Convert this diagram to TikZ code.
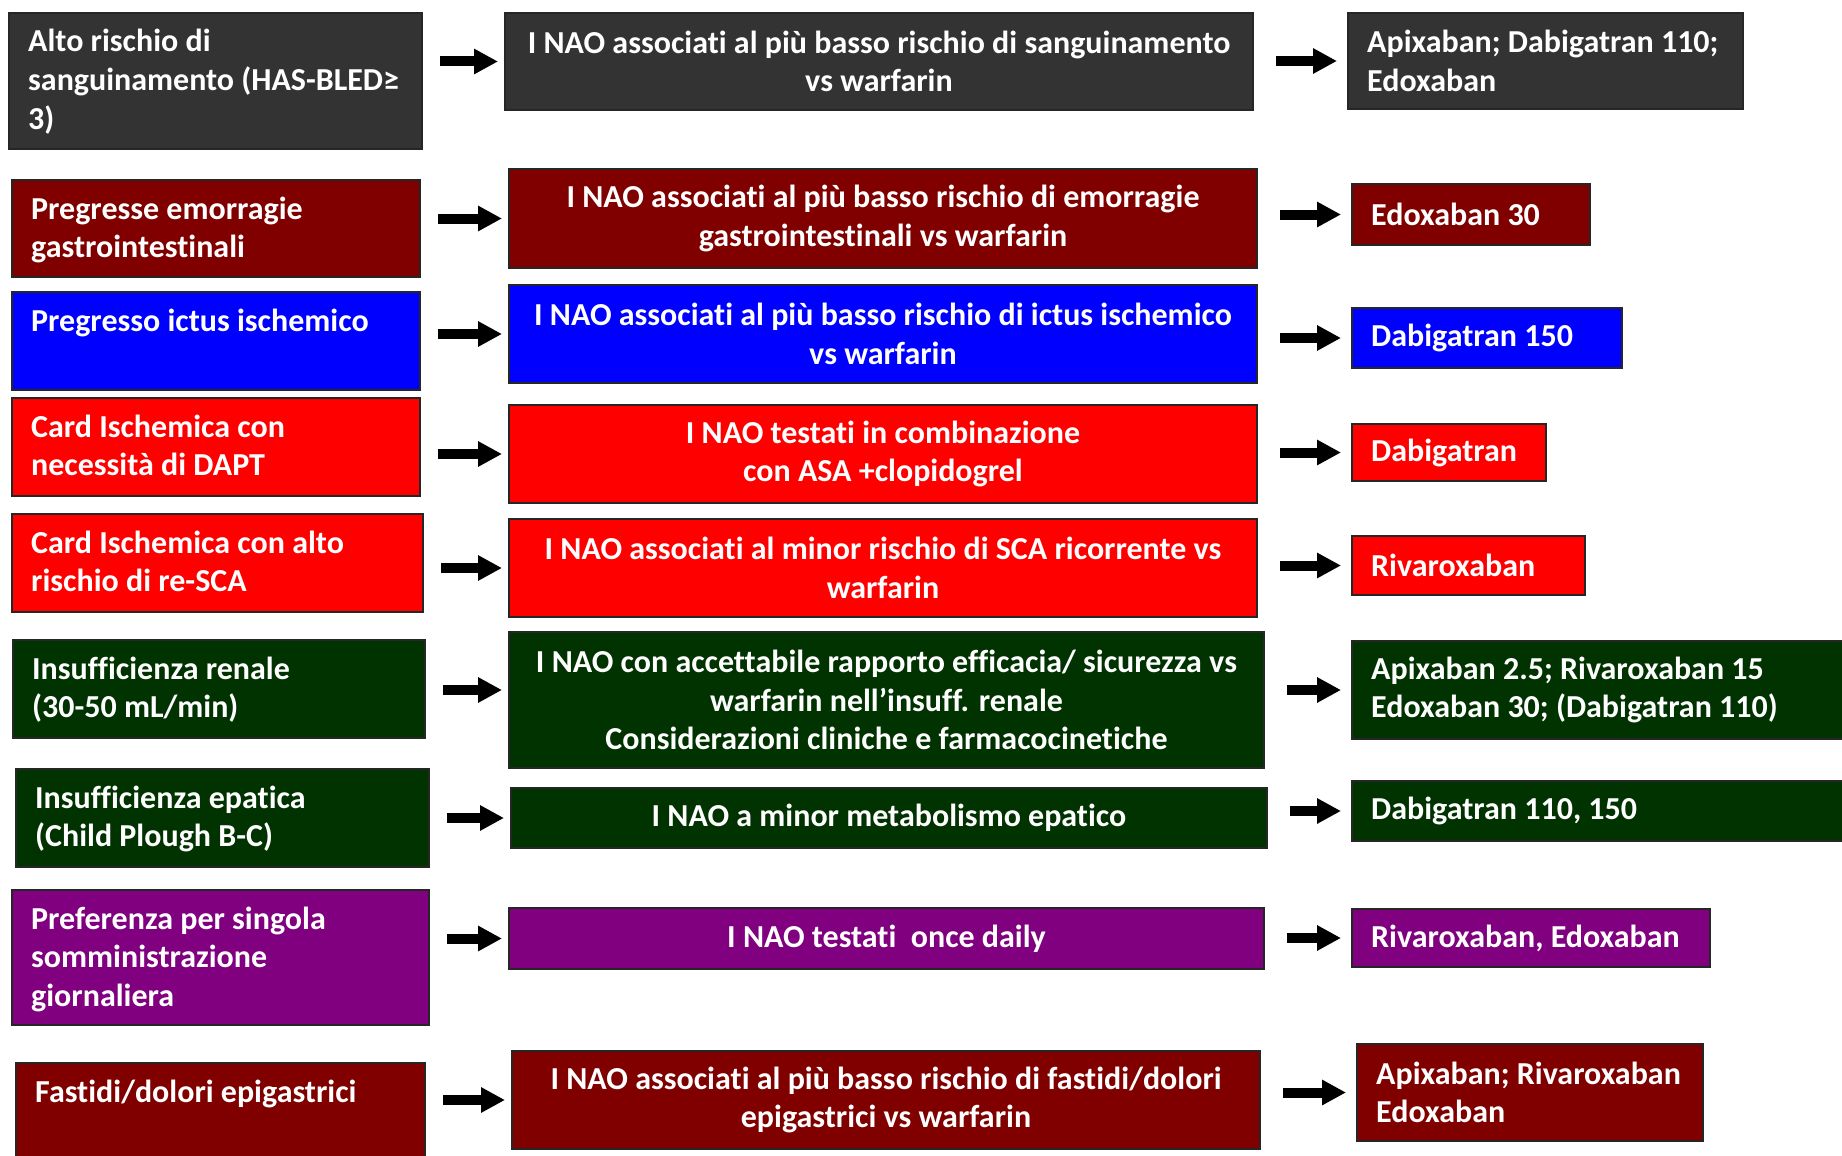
\documentclass[tikz,border=0pt]{standalone}
\usepackage{fontspec}
\setmainfont{Carlito}[Ligatures=CommonOff]
\usetikzlibrary{arrows.meta}

\definecolor{grigio}{HTML}{333333}
\definecolor{bordeaux}{HTML}{800000}
\definecolor{blu}{HTML}{0000FF}
\definecolor{rosso}{HTML}{FF0000}
\definecolor{verde}{HTML}{003300}
\definecolor{viola}{HTML}{800080}

\tikzstyle{every node}=[font=\fontsize{32pt}{38.6pt}\selectfont\bfseries]
\tikzstyle{casella}=[rectangle, draw=black!85, line width=2pt, inner sep=0pt, anchor=north west]
\tikzstyle{sinistra}=[text=white, anchor=base west, text width=395pt, align=flush left, inner sep=0pt]
\tikzstyle{centro}=[text=white, align=center, inner sep=0pt]
\tikzstyle{destra}=[text=white, anchor=west, align=left, inner sep=0pt]
\tikzstyle{freccia}=[line width=10pt, -{Triangle[length=24pt,width=24pt]}]

\begin{document}
\begin{tikzpicture}[x=1pt, y=-1pt]
    \useasboundingbox (0,0) rectangle (1842,1156);

    % Sanguinamento
    \node[casella, fill=grigio, minimum width=413pt, minimum height=136pt] (l1) at (8,12) {};
    \node[casella, fill=grigio, minimum width=748pt, minimum height=97pt] (m1) at (504,12) {};
    \node[casella, fill=grigio, minimum width=395pt, minimum height=96pt] (r1) at (1347,12) {};
    \node[sinistra] (tl1) at ([shift={(20,40)}]l1.north west) {Alto rischio di\\sanguinamento (HAS-BLED≥\\3)};
    \node[centro] (tm1) at (m1) {I NAO associati al più basso rischio di sanguinamento\\vs warfarin};
    \node[destra] (tr1) at ([xshift=20pt]r1.west) {Apixaban; Dabigatran 110;\\Edoxaban};
    \draw[freccia, shorten <=17pt, shorten >=6pt] (l1.east |- m1.west) -- (m1.west);
    \draw[freccia, shorten <=22pt, shorten >=10pt] (m1.east |- r1.west) -- (r1.west);

    % Emorragie gastrointestinali
    \node[casella, fill=bordeaux, minimum width=408pt, minimum height=97pt] (l2) at (11,179) {};
    \node[casella, fill=bordeaux, minimum width=748pt, minimum height=99pt] (m2) at (508,168) {};
    \node[casella, fill=bordeaux, minimum width=238pt, minimum height=61pt] (r2) at (1351,183) {};
    \node[sinistra] (tl2) at ([shift={(20,40)}]l2.north west) {Pregresse emorragie\\gastrointestinali};
    \node[centro] (tm2) at (m2) {I NAO associati al più basso rischio di emorragie\\gastrointestinali vs warfarin};
    \node[destra] (tr2) at ([xshift=20pt]r2.west) {Edoxaban 30};
    \draw[freccia, shorten <=17pt, shorten >=6pt] (l2.east |- m2.west) -- (m2.west);
    \draw[freccia, shorten <=22pt, shorten >=10pt] (m2.east |- r2.west) -- (r2.west);

    % Ictus
    \node[casella, fill=blu, minimum width=408pt, minimum height=98pt] (l3) at (11,291) {};
    \node[casella, fill=blu, minimum width=748pt, minimum height=98pt] (m3) at (508,284) {};
    \node[casella, fill=blu, minimum width=270pt, minimum height=60pt] (r3) at (1351,307) {};
    \node[sinistra] (tl3) at ([shift={(20,40)}]l3.north west) {Pregresso ictus ischemico};
    \node[centro] (tm3) at (m3) {I NAO associati al più basso rischio di ictus ischemico\\vs warfarin};
    \node[destra] (tr3) at ([xshift=20pt]r3.west) {Dabigatran 150};
    \draw[freccia, shorten <=17pt, shorten >=6pt] (l3.east |- m3.west) -- (m3.west);
    \draw[freccia, shorten <=22pt, shorten >=10pt] (m3.east |- r3.west) -- (r3.west);

    % DAPT
    \node[casella, fill=rosso, minimum width=408pt, minimum height=98pt] (l4) at (11,397) {};
    \node[casella, fill=rosso, minimum width=748pt, minimum height=98pt] (m4) at (508,404) {};
    \node[casella, fill=rosso, minimum width=194pt, minimum height=57pt] (r4) at (1351,423) {};
    \node[sinistra] (tl4) at ([shift={(20,40)}]l4.north west) {Card Ischemica con\\necessità di DAPT};
    \node[centro] (tm4) at (m4) {I NAO testati in combinazione\\con ASA +clopidogrel};
    \node[destra] (tr4) at ([xshift=20pt]r4.west) {Dabigatran};
    \draw[freccia, shorten <=17pt, shorten >=6pt] (l4.east |- m4.west) -- (m4.west);
    \draw[freccia, shorten <=22pt, shorten >=10pt] (m4.east |- r4.west) -- (r4.west);

    % re-SCA
    \node[casella, fill=rosso, minimum width=411pt, minimum height=98pt] (l5) at (11,513) {};
    \node[casella, fill=rosso, minimum width=748pt, minimum height=98pt] (m5) at (508,518) {};
    \node[casella, fill=rosso, minimum width=233pt, minimum height=59pt] (r5) at (1351,535) {};
    \node[sinistra] (tl5) at ([shift={(20,40)}]l5.north west) {Card Ischemica con alto\\rischio di re-SCA};
    \node[centro] (tm5) at (m5) {I NAO associati al minor rischio di SCA ricorrente vs\\warfarin};
    \node[destra] (tr5) at ([xshift=20pt]r5.west) {Rivaroxaban};
    \draw[freccia, shorten <=17pt, shorten >=6pt] (l5.east |- m5.west) -- (m5.west);
    \draw[freccia, shorten <=22pt, shorten >=10pt] (m5.east |- r5.west) -- (r5.west);

    % Insufficienza renale
    \node[casella, fill=verde, minimum width=412pt, minimum height=98pt] (l6) at (12,639) {};
    \node[casella, fill=verde, minimum width=755pt, minimum height=136pt] (m6) at (508,631) {};
    \node[casella, fill=verde, minimum width=500pt, minimum height=98pt] (r6) at (1351,640) {};
    \node[sinistra] (tl6) at ([shift={(20,40)}]l6.north west) {Insufficienza renale\\(30-50 mL/min)};
    \node[centro] (tm6) at (m6) {I NAO con accettabile rapporto efficacia/ sicurezza vs\\warfarin nell’insuff. renale\\Considerazioni cliniche e farmacocinetiche};
    \node[destra] (tr6) at ([xshift=20pt]r6.west) {Apixaban 2.5; Rivaroxaban 15\\Edoxaban 30; (Dabigatran 110)};
    \draw[freccia, shorten <=17pt, shorten >=6pt] (l6.east |- r6.west) -- (m6.west |- r6.west);
    \draw[freccia, shorten <=22pt, shorten >=10pt] (m6.east |- r6.west) -- (r6.west);

    % Insufficienza epatica
    \node[casella, fill=verde, minimum width=413pt, minimum height=98pt] (l7) at (15,768) {};
    \node[casella, fill=verde, minimum width=756pt, minimum height=60pt] (m7) at (510,787) {};
    \node[casella, fill=verde, minimum width=500pt, minimum height=60pt] (r7) at (1351,780) {};
    \node[sinistra] (tl7) at ([shift={(20,40)}]l7.north west) {Insufficienza epatica\\(Child Plough B-C)};
    \node[centro] (tm7) at (m7) {I NAO a minor metabolismo epatico};
    \node[destra] (tr7) at ([xshift=20pt]r7.west) {Dabigatran 110, 150};
    \draw[freccia, shorten <=17pt, shorten >=6pt] (l7.east |- m7.west) -- (m7.west);
    \draw[freccia, shorten <=22pt, shorten >=10pt] (m7.east |- r7.west) -- (r7.west);

    % Monosomministrazione
    \node[casella, fill=viola, minimum width=417pt, minimum height=135pt] (l8) at (11,889) {};
    \node[casella, fill=viola, minimum width=755pt, minimum height=61pt] (m8) at (508,907) {};
    \node[casella, fill=viola, minimum width=358pt, minimum height=58pt] (r8) at (1351,908) {};
    \node[sinistra] (tl8) at ([shift={(20,40)}]l8.north west) {Preferenza per singola\\somministrazione\\giornaliera};
    \node[centro] (tm8) at (m8) {I NAO testati\ \ once daily};
    \node[destra] (tr8) at ([xshift=20pt]r8.west) {Rivaroxaban, Edoxaban};
    \draw[freccia, shorten <=17pt, shorten >=6pt] (l8.east |- m8.west) -- (m8.west);
    \draw[freccia, shorten <=22pt, shorten >=10pt] (m8.east |- r8.west) -- (r8.west);

    % Epigastralgia
    \node[casella, fill=bordeaux, minimum width=409pt, minimum height=110pt] (l9) at (15,1062) {};
    \node[casella, fill=bordeaux, minimum width=748pt, minimum height=98pt] (m9) at (511,1050) {};
    \node[casella, fill=bordeaux, minimum width=346pt, minimum height=97pt] (r9) at (1356,1043) {};
    \node[sinistra] (tl9) at ([shift={(20,40)}]l9.north west) {Fastidi/dolori epigastrici};
    \node[centro] (tm9) at (m9) {I NAO associati al più basso rischio di fastidi/dolori\\epigastrici vs warfarin};
    \node[destra] (tr9) at ([xshift=20pt]r9.west) {Apixaban; Rivaroxaban\\Edoxaban};
    \draw[freccia, shorten <=17pt, shorten >=6pt] (l9.east |- m9.west) -- (m9.west);
    \draw[freccia, shorten <=22pt, shorten >=10pt] (m9.east |- r9.west) -- (r9.west);
\end{tikzpicture}
\end{document}
